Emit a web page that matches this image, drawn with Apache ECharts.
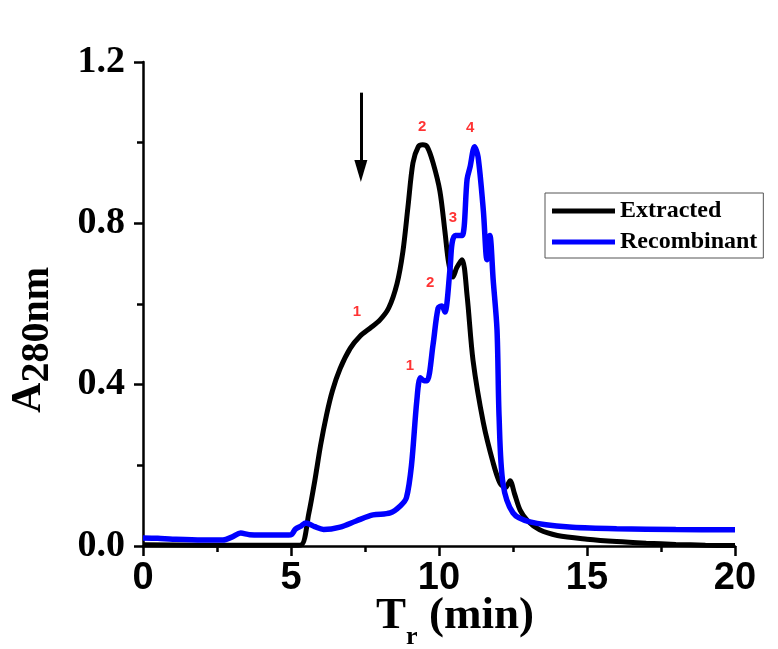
<!DOCTYPE html>
<html>
<head>
<meta charset="utf-8">
<script src="https://cdn.jsdelivr.net/npm/echarts@6/dist/echarts.min.js"></script>
<style>
  html, body { margin: 0; padding: 0; background: #fff; }
  #chart { width: 778px; height: 649px; }
</style>
</head>
<body>
<div id="chart"></div>
<script>
// 数据：洗脱时间 (min) 与 A280nm 吸光度
let timeExtracted = [0, 2, 4, 5.0, 5.35, 5.6, 5.8, 6.0, 6.2, 6.4, 6.66, 7.0, 7.33, 7.67, 8.0, 8.3, 8.58, 8.78, 8.95, 9.12, 9.3, 9.45, 9.6, 9.8, 10.03, 10.2, 10.33, 10.47, 10.6, 10.78, 10.95, 11.15, 11.5, 11.83, 12.06, 12.25, 12.4, 12.55, 12.74, 13.0, 13.4, 14.0, 15.0, 16.0, 17.0, 18.0, 19.0, 20.0]
let absExtracted = [0.003, 0.002, 0.002, 0.002, 0.003, 0.08, 0.16, 0.25, 0.325, 0.385, 0.44, 0.49, 0.52, 0.54, 0.56, 0.59, 0.65, 0.73, 0.84, 0.95, 0.99, 0.995, 0.99, 0.95, 0.88, 0.78, 0.70, 0.667, 0.69, 0.71, 0.62, 0.46, 0.305, 0.206, 0.156, 0.145, 0.162, 0.13, 0.089, 0.062, 0.04, 0.026, 0.017, 0.011, 0.007, 0.004, 0.002, 0.001]

let timeRecombinant = [0, 0.5, 1.0, 2.0, 2.7, 3.0, 3.3, 3.6, 4.5, 5.0, 5.15, 5.35, 5.5, 5.8, 6.1, 6.66, 7.2, 7.77, 8.35, 8.7, 8.9, 9.07, 9.25, 9.37, 9.5, 9.6, 9.8, 9.97, 10.1, 10.2, 10.37, 10.44, 10.55, 10.78, 10.95, 11.05, 11.2, 11.32, 11.5, 11.62, 11.72, 11.83, 11.96, 12.03, 12.16, 12.5, 13.07, 14.4, 16, 18, 20]
let absRecombinant = [0.02, 0.019, 0.017, 0.015, 0.015, 0.022, 0.032, 0.028, 0.027, 0.028, 0.042, 0.05, 0.057, 0.048, 0.041, 0.047, 0.062, 0.077, 0.082, 0.1, 0.12, 0.2, 0.36, 0.417, 0.41, 0.41, 0.5, 0.59, 0.595, 0.58, 0.685, 0.75, 0.77, 0.77, 0.91, 0.94, 0.99, 0.965, 0.83, 0.71, 0.77, 0.66, 0.536, 0.32, 0.156, 0.082, 0.06, 0.047, 0.043, 0.041, 0.04]

// 红色峰号
let peakLabelX = [7.23, 9.43, 9.02, 9.7, 10.47, 11.05]
let peakLabelY = [0.58, 1.04, 0.447, 0.653, 0.814, 1.037]
let peakLabelText = ['1', '2', '1', '2', '3', '4']

// 箭头（上样点）
let arrowX = 7.36
let arrowY = [1.124, 0.93]

let xTicks = [0, 5, 10, 15, 20]
let yTicks = [0.0, 0.4, 0.8, 1.2]

function zip(xs, ys) {
  return xs.map((x, i) => [x, ys[i]])
}

let myChart = echarts.init(document.getElementById('chart'))

let option = {
  backgroundColor: '#ffffff',
  animation: false,
  grid: { left: 143, right: 43, top: 62, bottom: 103, containLabel: false, outerBoundsMode: 'none' },
  legend: {
    orient: 'vertical',
    left: 545,
    top: 193,
    padding: [6, 6, 4, 7],
    itemGap: 7,
    itemWidth: 63,
    itemHeight: 5,
    icon: 'rect',
    borderColor: '#555',
    borderWidth: 1,
    textStyle: {
      fontFamily: 'Liberation Serif',
      fontWeight: 'bold',
      fontSize: 24,
      color: '#000'
    },
    data: ['Extracted', 'Recombinant']
  },
  xAxis: {
    type: 'value',
    min: xTicks[0],
    max: xTicks[xTicks.length - 1],
    interval: 5,
    name: '{t|T}{r|r}{m| (min)}',
    nameLocation: 'middle',
    nameGap: 48,
    nameMoveOverlap: false,
    nameTextStyle: {
      padding: [0, 0, 0, 32],
      rich: {
        t: { fontFamily: 'Liberation Serif', fontWeight: 'bold', fontSize: 45, color: '#000', verticalAlign: 'top' },
        r: { fontFamily: 'Liberation Serif', fontWeight: 'bold', fontSize: 26, color: '#000', verticalAlign: 'bottom', padding: [30, 0, 0, 0] },
        m: { fontFamily: 'Liberation Serif', fontWeight: 'bold', fontSize: 45, color: '#000', verticalAlign: 'top' }
      }
    },
    axisLine: { lineStyle: { color: '#000', width: 2.5 } },
    axisTick: { inside: false, length: 10, lineStyle: { color: '#000', width: 2.5 } },
    minorTick: { show: true, splitNumber: 2, length: 6, lineStyle: { color: '#000', width: 2.5 } },
    axisLabel: {
      margin: 14,
      fontFamily: 'Liberation Sans',
      fontWeight: 'bold',
      fontSize: 38,
      color: '#000'
    },
    splitLine: { show: false }
  },
  yAxis: {
    type: 'value',
    min: yTicks[0],
    max: yTicks[yTicks.length - 1],
    interval: 0.4,
    name: '{a|A}{s|280nm}',
    nameLocation: 'middle',
    nameGap: 85,
    nameMoveOverlap: false,
    nameTextStyle: {
      padding: [0, 72, 0, 0],
      rich: {
        a: { fontFamily: 'Liberation Serif', fontWeight: 'bold', fontSize: 42, color: '#000', verticalAlign: 'top' },
        s: { fontFamily: 'Liberation Serif', fontWeight: 'bold', fontSize: 40, color: '#000', verticalAlign: 'bottom', padding: [10, 0, 0, 0] }
      }
    },
    axisLine: { show: true, lineStyle: { color: '#000', width: 2.5 } },
    axisTick: { show: true, inside: false, length: 9, lineStyle: { color: '#000', width: 2.5 } },
    minorTick: { show: true, splitNumber: 2, length: 6, lineStyle: { color: '#000', width: 2.5 } },
    axisLabel: {
      margin: 18,
      fontFamily: 'Liberation Serif',
      fontWeight: 'bold',
      fontSize: 38,
      color: '#000',
      formatter: v => v.toFixed(1)
    },
    splitLine: { show: false }
  },
  series: [
    {
      name: 'Extracted',
      type: 'line',
      showSymbol: false,
      smooth: 0.3,
      color: '#000000',
      lineStyle: { color: '#000000', width: 5 },
      data: zip(timeExtracted, absExtracted),
      markLine: {
        silent: true,
        symbol: ['none', 'triangle'],
        symbolSize: [13, 22],
        label: { show: false },
        lineStyle: { color: '#000', width: 3, type: 'solid' },
        data: [[{ coord: [arrowX, arrowY[0]] }, { coord: [arrowX, arrowY[1]] }]]
      }
    },
    {
      name: 'Recombinant',
      type: 'line',
      showSymbol: false,
      smooth: 0.3,
      color: '#0000ff',
      lineStyle: { color: '#0000ff', width: 5.5 },
      data: zip(timeRecombinant, absRecombinant)
    },
    {
      name: 'peaks',
      type: 'scatter',
      symbolSize: 0,
      silent: true,
      label: {
        show: true,
        position: 'inside',
        color: '#ff0000',
        fontFamily: 'Liberation Sans',
        fontWeight: 'bold',
        fontSize: 15,
        formatter: p => peakLabelText[p.dataIndex]
      },
      data: zip(peakLabelX, peakLabelY)
    }
  ]
}

myChart.setOption(option)
</script>
</body>
</html>
